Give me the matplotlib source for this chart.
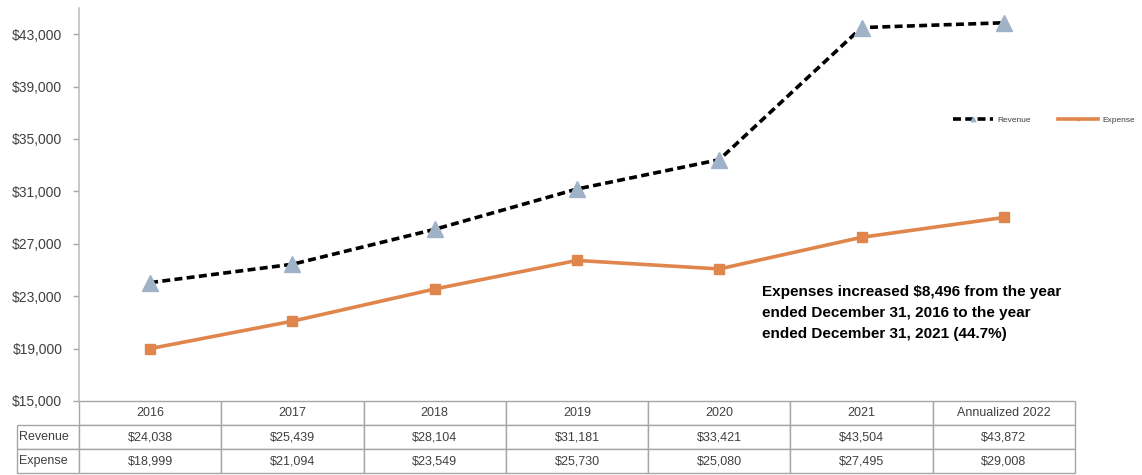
import matplotlib
matplotlib.use("Agg")
import matplotlib.pyplot as plt
from matplotlib.ticker import FuncFormatter

# yearly figures, in dollars
years = ["2016", "2017", "2018", "2019", "2020", "2021", "Annualized 2022"]
revenue = [24038, 25439, 28104, 31181, 33421, 43504, 43872]
expense = [18999, 21094, 23549, 25730, 25080, 27495, 29008]
note = ("Expenses increased $8,496 from the year\n"
        "ended December 31, 2016 to the year\n"
        "ended December 31, 2021 (44.7%)")

plt.rcParams["font.family"] = ["Liberation Sans", "DejaVu Sans"]
text_grey = "#404040"
edge_grey = "#A6A6A6"

fig = plt.figure(figsize=(11.42, 4.75), dpi=100)
ax = fig.add_axes([79 / 1142, 74 / 475, 996 / 1142, 393 / 475])

x = list(range(len(years)))
ax.plot(x, revenue, color="black", linestyle=(0, (2.2, 1.2)), linewidth=2.6,
        marker="^", markersize=11, markerfacecolor="#A0B2C8",
        markeredgecolor="#A0B2C8", label="Revenue", zorder=3)
ax.plot(x, expense, color="#E0864C", linewidth=2.6, marker="s",
        markersize=7, label="Expense", zorder=3)

ax.set_xlim(-0.5, len(years) - 0.5)
ax.set_ylim(15000, 45000)
ax.set_yticks(range(15000, 45000, 4000))
ax.yaxis.set_major_formatter(FuncFormatter(lambda v, _: f"${v:,.0f}"))
ax.tick_params(axis="y", labelsize=10, labelcolor=text_grey, color=edge_grey,
               length=4, width=1, pad=8)
ax.set_xticks([])
for side in ("top", "right", "bottom"):
    ax.spines[side].set_visible(False)
ax.spines["left"].set_color("#BFBFBF")
ax.spines["left"].set_linewidth(1.2)

ax.text(683 / 996, (401 - 285) / 393, note, transform=ax.transAxes,
        fontsize=11, fontweight="bold", va="top", ha="left", color="black",
        linespacing=1.65)

# data table under the plot, first column holds the series names
label_w = 62 / 996
rows = [["Revenue"] + [f"${v:,}" for v in revenue],
        ["Expense"] + [f"${v:,}" for v in expense]]
tbl = ax.table(cellText=rows, colLabels=[""] + years, cellLoc="center",
               colWidths=[label_w] + [1 / 7] * 7,
               bbox=[-label_w, -72 / 393, 1 + label_w, 72 / 393])
tbl.auto_set_font_size(False)
tbl.set_fontsize(9)
for (r, c), cell in tbl.get_celld().items():
    cell.set_edgecolor(edge_grey)
    cell.set_linewidth(1)
    cell.get_text().set_color(text_grey)
    if c == 0:
        cell.get_text().set_horizontalalignment("left")
        cell.PAD = 0.04
        if r == 0:
            cell.set_visible(False)

leg = fig.legend(loc="center left", bbox_to_anchor=(945 / 1142, 1 - 120 / 475),
                 ncol=2, frameon=False, fontsize=6, handlelength=4.8,
                 handletextpad=0.6, columnspacing=3.2, markerscale=0.3)
for t in leg.get_texts():
    t.set_color(text_grey)

fig.savefig("out.png", dpi=100)
